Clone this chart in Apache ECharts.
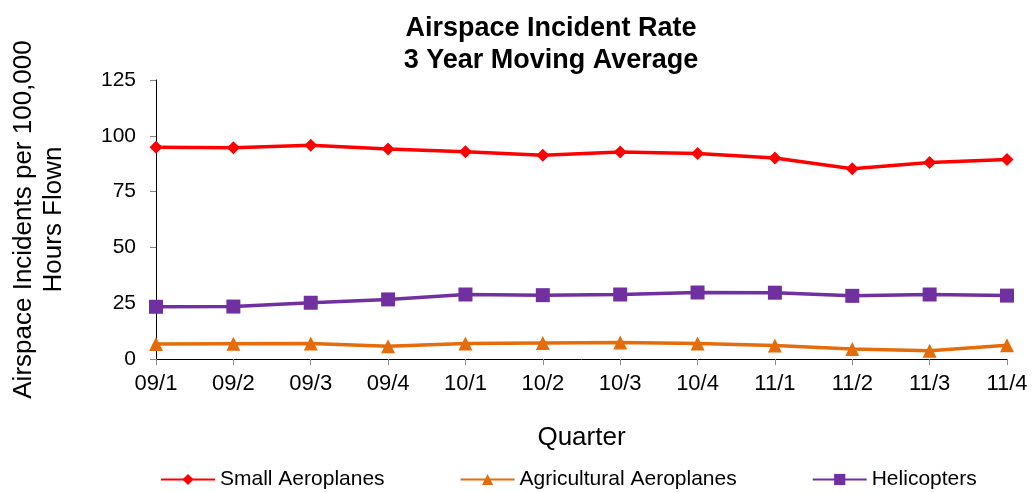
<!DOCTYPE html>
<html>
<head>
<meta charset="utf-8">
<script src="https://cdn.jsdelivr.net/npm/echarts@6/dist/echarts.min.js"></script>
<style>
  html, body { margin: 0; padding: 0; background: #fff; }
  #chart { width: 1032px; height: 492px; }
</style>
</head>
<body>
<div id="chart"></div>
<script>
// quarters along the x axis
const quarters = ['09/1', '09/2', '09/3', '09/4', '10/1', '10/2', '10/3', '10/4', '11/1', '11/2', '11/3', '11/4'];

// incidents per 100,000 hours flown, 3 year moving average
const smallAeroplanes = [94.9, 94.6, 95.8, 94.1, 92.9, 91.3, 92.7, 92.1, 90.1, 85.2, 88.0, 89.4];
const agriculturalAeroplanes = [6.7, 6.8, 6.9, 5.7, 6.9, 7.2, 7.4, 7.0, 6.1, 4.5, 3.7, 6.2];
const helicopters = [23.4, 23.5, 25.2, 26.7, 28.9, 28.6, 28.9, 29.8, 29.7, 28.3, 28.9, 28.4];

const font = 'Liberation Sans, Arial, sans-serif';

const chart = echarts.init(document.getElementById('chart'));

chart.setOption({
  animation: false,
  backgroundColor: '#fff',
  textStyle: { fontFamily: font, color: '#000' },
  title: {
    text: 'Airspace Incident Rate\n3 Year Moving Average',
    left: 546,
    top: 8,
    textAlign: 'center',
    textStyle: { fontFamily: font, fontSize: 27, fontWeight: 'bold', color: '#000', lineHeight: 32 }
  },
  legend: {
    bottom: -3,
    left: 155,
    itemWidth: 54,
    itemHeight: 14,
    itemGap: 75,
    textStyle: { fontFamily: font, fontSize: 21, color: '#000' },
    data: ['Small Aeroplanes', 'Agricultural Aeroplanes', 'Helicopters']
  },
  grid: { left: 156, right: 25, top: 80, bottom: 133, containLabel: false, outerBoundsMode: 'none' },
  xAxis: {
    type: 'category',
    data: quarters,
    boundaryGap: false,
    name: 'Quarter',
    nameLocation: 'middle',
    nameGap: 66,
    nameTextStyle: { fontFamily: font, fontSize: 26, color: '#000' },
    axisLine: { lineStyle: { color: '#000', width: 1 } },
    axisTick: { show: true, alignWithLabel: true, length: 6, lineStyle: { color: '#888' } },
    axisLabel: { fontFamily: font, fontSize: 22, color: '#000', margin: 14, interval: 0 }
  },
  yAxis: {
    type: 'value',
    min: 0,
    max: 125,
    interval: 25,
    name: 'Airspace Incidents per 100,000\nHours Flown',
    nameLocation: 'middle',
    nameGap: 87,
    nameTextStyle: { fontFamily: font, fontSize: 26, color: '#000', lineHeight: 30 },
    axisLine: { show: true, lineStyle: { color: '#000', width: 1 } },
    axisTick: { show: true, length: 6, lineStyle: { color: '#888' } },
    splitLine: { show: false },
    axisLabel: { fontFamily: font, fontSize: 21, color: '#000', margin: 20 }
  },
  series: [
    {
      name: 'Small Aeroplanes',
      type: 'line',
      data: smallAeroplanes,
      color: '#FF0000',
      symbol: 'diamond',
      symbolSize: 13,
      lineStyle: { width: 3.5 }
    },
    {
      name: 'Agricultural Aeroplanes',
      type: 'line',
      data: agriculturalAeroplanes,
      color: '#E46C0A',
      symbol: 'triangle',
      symbolSize: 14,
      lineStyle: { width: 3.5 }
    },
    {
      name: 'Helicopters',
      type: 'line',
      data: helicopters,
      color: '#7030A0',
      symbol: 'rect',
      symbolSize: 14,
      lineStyle: { width: 3.5 }
    }
  ]
});
</script>
</body>
</html>
